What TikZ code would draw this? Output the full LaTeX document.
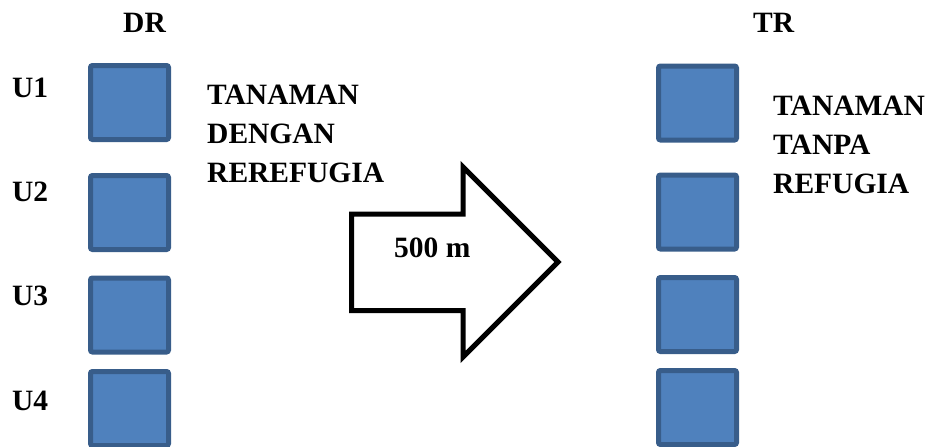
\documentclass[tikz,border=0pt]{standalone}
\usepackage{fontspec}
\setmainfont{Liberation Serif}
\begin{document}
\begin{tikzpicture}[x=1pt,y=-1pt,
  plot/.style={draw=plotedge,fill=plotfill,line width=5pt,rounded corners=2pt,
    minimum width=78pt,minimum height=74pt,inner sep=0pt,outer sep=0pt},
  lbl/.style={font=\fontsize{29.5}{39}\selectfont\bfseries,inner sep=0pt,anchor=base west}]
\definecolor{plotfill}{HTML}{4F81BD}
\definecolor{plotedge}{HTML}{385D8A}
\useasboundingbox (0,0) rectangle (929,447);

% column headings
\node[lbl] (dr) at (123,32) {DR};
\node[lbl] (tr) at (753,32) {TR};

% plots with refugia
\node[plot] (d1) at (129.5,102.5) {};
\node[plot] (d2) at (129.5,212.5) {};
\node[plot] (d3) at (129.5,315) {};
\node[plot] (d4) at (129.5,408.5) {};

% plots without refugia
\node[plot] (t1) at (697.5,103) {};
\node[plot] (t2) at (697.5,212) {};
\node[plot] (t3) at (697.5,314.5) {};
\node[plot] (t4) at (697.5,407.5) {};

% row labels
\node[lbl] (u1) at (12,97) {U1};
\node[lbl] (u2) at (12,201) {U2};
\node[lbl] (u3) at (12,305) {U3};
\node[lbl] (u4) at (12,410) {U4};

% descriptions
\node[lbl] (a1) at (207,104) {TANAMAN};
\node[lbl] (a2) at (207,143) {DENGAN};
\node[lbl] (a3) at (207,182) {REREFUGIA};
\node[lbl] (b1) at (773,115) {TANAMAN};
\node[lbl] (b2) at (773,154) {TANPA};
\node[lbl] (b3) at (773,193) {REFUGIA};

% distance arrow
\draw[line width=5pt,line join=miter,fill=white]
  (351.5,214) -- (463,214) -- (463,167) -- (558,262) -- (463,357)
  -- (463,310.5) -- (351.5,310.5) -- cycle;
\node[lbl] (dist) at (394,257) {500 m};
\end{tikzpicture}
\end{document}
